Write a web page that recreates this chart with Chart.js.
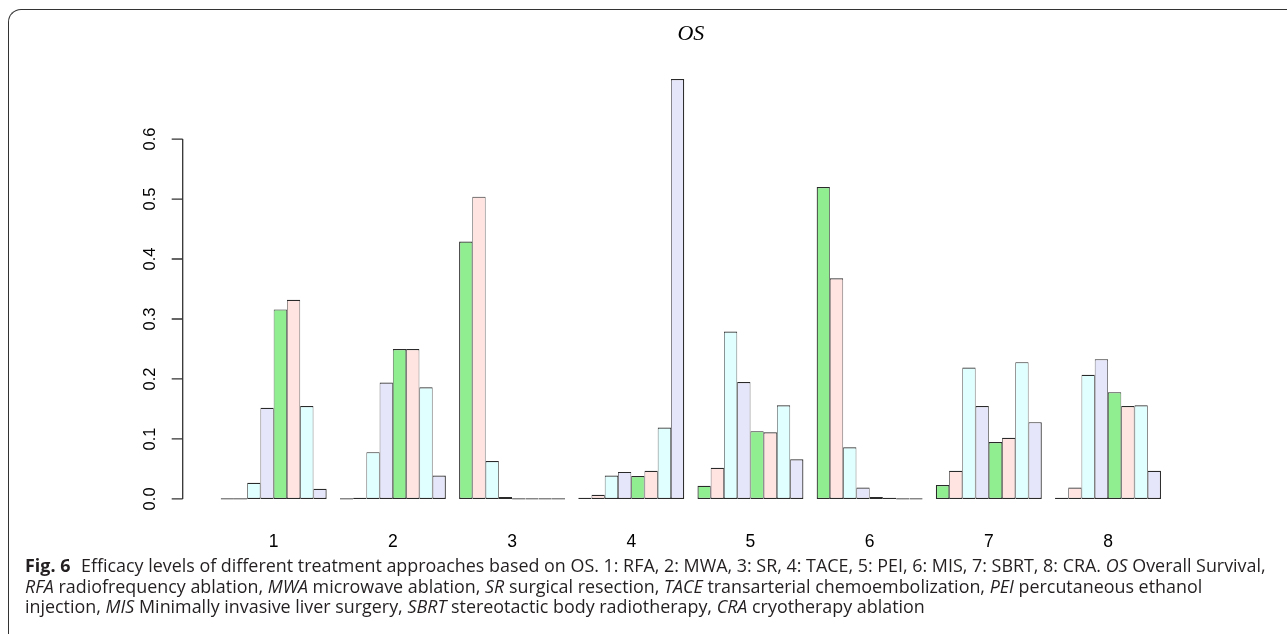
<!DOCTYPE html>
<html>
<head>
<meta charset="utf-8">
<script src="https://cdn.jsdelivr.net/npm/chart.js@4.4.1/dist/chart.umd.min.js"></script>
<style>
    body { margin: 0; background: #fff; width: 1287px; height: 634px; overflow: hidden; position: relative; }
    .frame {
        position: absolute; left: 8px; top: 9px; width: 1400px; height: 700px;
        border-left: 1.4px solid #333; border-top: 1.4px solid #333;
        border-top-left-radius: 13px;
    }
    #chart { position: absolute; left: 0; top: 0; }
    .caption {
        position: absolute; left: 25px; top: 555px;
        font-family: "Open Sans", "Noto Sans", sans-serif; font-size: 17.9px;
        line-height: 20.5px; color: #231f20; white-space: nowrap;
    }
    .caption b { font-weight: 700; margin-right: 6px; }
</style>
</head>
<body>
<div class="frame"></div>
<canvas id="chart" width="1287" height="570"></canvas>
<div class="caption">
    <div><b>Fig. 6</b> Efficacy levels of different treatment approaches based on OS. 1: RFA, 2: MWA, 3: SR, 4: TACE, 5: PEI, 6: MIS, 7: SBRT, 8: CRA. <i>OS</i> Overall Survival,</div>
    <div><i>RFA</i> radiofrequency ablation, <i>MWA</i> microwave ablation, <i>SR</i> surgical resection, <i>TACE</i> transarterial chemoembolization, <i>PEI</i> percutaneous ethanol</div>
    <div>injection, <i>MIS</i> Minimally invasive liver surgery, <i>SBRT</i> stereotactic body radiotherapy, <i>CRA</i> cryotherapy ablation</div>
</div>
<script>
// treatments on the x axis, each with the probability of ranks 1..8
const treatments = ["1", "2", "3", "4", "5", "6", "7", "8"];

const rfa  = [0, 0, 0.027, 0.152, 0.316, 0.332, 0.155, 0.017];
const mwa  = [0, 0.002, 0.078, 0.194, 0.250, 0.250, 0.186, 0.039];
const sr   = [0.429, 0.504, 0.063, 0.003, 0, 0, 0, 0];
const tace = [0.001, 0.007, 0.039, 0.045, 0.038, 0.047, 0.119, 0.700];
const pei  = [0.022, 0.052, 0.279, 0.195, 0.113, 0.111, 0.156, 0.066];
const mis  = [0.520, 0.368, 0.086, 0.019, 0.003, 0.001, 0, 0];
const sbrt = [0.023, 0.047, 0.219, 0.155, 0.095, 0.102, 0.228, 0.128];
const cra  = [0.001, 0.019, 0.207, 0.233, 0.178, 0.155, 0.156, 0.047];

const yTicks = [0, 0.1, 0.2, 0.3, 0.4, 0.5, 0.6];

// R palette repeated over the 8 ranks
const palette = ["#90EE90", "#FFE4E1", "#E0FFFF", "#E6E6FA"];

const groups = [rfa, mwa, sr, tace, pei, mis, sbrt, cra];

const datasets = [0, 1, 2, 3, 4, 5, 6, 7].map(rank => ({
    label: "Rank " + (rank + 1),
    data: groups.map(g => g[rank]),
    backgroundColor: palette[rank % 4],
    borderColor: "#2a2a2a",
    borderWidth: {top: 1.2, bottom: 1.2, left: rank === 0 ? 1.2 : 0.75, right: rank === 7 ? 1.2 : 0.75},
    borderSkipped: false,
    minBarLength: 1.2,
    categoryPercentage: 8 / 9,
    barPercentage: 1
}));

// R style left axis: line only from first to last tick, outside the plot region
const rAxis = {
    id: "rAxis",
    afterDraw(chart) {
        const y = chart.scales.y;
        const ctx = chart.ctx;
        const x = chart.chartArea.left - 31.4;
        ctx.save();
        ctx.strokeStyle = "#333";
        ctx.lineWidth = 1.3;
        ctx.beginPath();
        ctx.moveTo(x, y.getPixelForValue(yTicks[0]));
        ctx.lineTo(x, y.getPixelForValue(yTicks[yTicks.length - 1]));
        yTicks.forEach(v => {
            const py = y.getPixelForValue(v);
            ctx.moveTo(x - 11, py);
            ctx.lineTo(x, py);
        });
        ctx.stroke();
        ctx.restore();
    }
};

new Chart(document.getElementById("chart"), {
    type: "bar",
    data: {
        labels: treatments,
        datasets: datasets
    },
    options: {
        responsive: false,
        animation: false,
        layout: {
            // bottom margin ends up set by the y tick padding (about 54px)
            padding: {left: 0, right: 119.4, top: 0, bottom: 0}
        },
        plugins: {
            legend: {display: false},
            tooltip: {enabled: false},
            title: {
                display: true,
                text: "OS",
                fullSize: false,
                color: "#000",
                font: {family: "Liberation Serif", size: 22, style: "italic", weight: "normal", lineHeight: 1.2},
                padding: {top: 21.3, bottom: 14.6}
            }
        },
        scales: {
            x: {
                grid: {display: false},
                border: {display: false},
                ticks: {
                    color: "#000",
                    padding: 8,
                    font: {family: "Liberation Sans", size: 17.5}
                },
                afterFit: scale => { scale.height = 36; }
            },
            y: {
                min: -0.028,
                max: 0.728,
                grid: {display: false},
                border: {display: false},
                afterBuildTicks: scale => {
                    scale.ticks = yTicks.map(v => ({value: v}));
                },
                afterFit: scale => { scale.width = 214.1; },
                ticks: {
                    color: "#000",
                    minRotation: 90,
                    maxRotation: 90,
                    crossAlign: "center",
                    padding: 44.4,
                    font: {family: "Liberation Sans", size: 16.5},
                    callback: v => v.toFixed(1)
                }
            }
        }
    },
    plugins: [rAxis]
});
</script>
</body>
</html>
